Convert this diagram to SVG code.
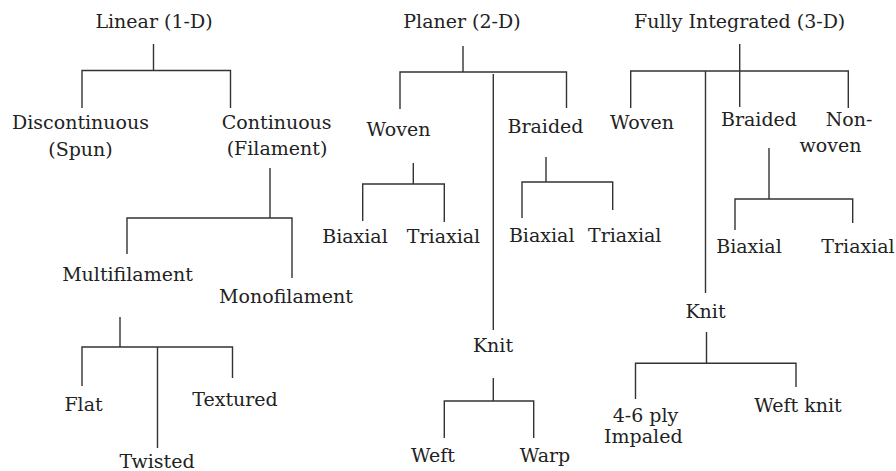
<svg xmlns="http://www.w3.org/2000/svg" width="896" height="471" viewBox="0 0 896 471">
<style>
text{font-family:"DejaVu Serif","Liberation Serif",serif;font-size:19px;fill:#222;text-anchor:middle}
.c path{fill:none;stroke:#333;stroke-width:1.4}
</style>
<rect width="896" height="471" fill="#fff"/>
<g class="c" id="connectors">
<path d="M153.5 44V70.5M82 108V70.5H230.5V108"/>
<path d="M270 168V218M127 254V218H292V278"/>
<path d="M120 317V347M82 386V347H232.5V378M157.5 347V448"/>
<path d="M463 46V72M400 109V72H566.5V108M493.3 74V330"/>
<path d="M413.3 163V184M362.7 221V184H444.3V222"/>
<path d="M546 157V182M522 218V182H612.7V210"/>
<path d="M493.3 378V401M444.3 438V401H533.7V438"/>
<path d="M739.7 44V107M630.7 108V71H848.3V108M705.5 71V293"/>
<path d="M769 148V199M735 230V199H852.7V223"/>
<path d="M706.5 332V363.3M635.5 399V363.3H796V387"/>
</g>
<g id="linear"><text x="154" y="28">Linear (1-D)</text></g>
<g id="discontinuous"><text x="80.5" y="129">Discontinuous</text><text x="80.5" y="156">(Spun)</text></g>
<g id="continuous"><text x="276.7" y="129">Continuous</text><text x="277" y="155">(Filament)</text></g>
<g id="multifilament"><text x="127.5" y="281">Multifilament</text></g>
<g id="monofilament"><text x="286" y="303">Monofilament</text></g>
<g id="flat"><text x="83.5" y="411">Flat</text></g>
<g id="twisted"><text x="157" y="468">Twisted</text></g>
<g id="textured"><text x="235" y="406">Textured</text></g>
<g id="planer"><text x="462" y="28">Planer (2-D)</text></g>
<g id="woven2d"><text x="398.5" y="136">Woven</text></g>
<g id="braided2d"><text x="545.5" y="133">Braided</text></g>
<g id="biaxial-w2d"><text x="355" y="243">Biaxial</text></g>
<g id="triaxial-w2d"><text x="443.5" y="243">Triaxial</text></g>
<g id="biaxial-b2d"><text x="541.7" y="241.7">Biaxial</text></g>
<g id="triaxial-b2d"><text x="624.7" y="241.7">Triaxial</text></g>
<g id="knit2d"><text x="493" y="351.7">Knit</text></g>
<g id="weft"><text x="433" y="462">Weft</text></g>
<g id="warp"><text x="545" y="462">Warp</text></g>
<g id="fully"><text x="739.7" y="28">Fully Integrated (3-D)</text></g>
<g id="woven3d"><text x="642" y="129">Woven</text></g>
<g id="braided3d"><text x="759" y="126">Braided</text></g>
<g id="nonwoven"><text x="849" y="126">Non-</text><text x="830.5" y="151.7">woven</text></g>
<g id="biaxial3d"><text x="749" y="253">Biaxial</text></g>
<g id="triaxial3d"><text x="858" y="253">Triaxial</text></g>
<g id="knit3d"><text x="705.5" y="318">Knit</text></g>
<g id="impaled"><text x="645.5" y="421.7">4-6 ply</text><text x="643.3" y="443.3">Impaled</text></g>
<g id="weftknit"><text x="798" y="411.7">Weft knit</text></g>
</svg>
